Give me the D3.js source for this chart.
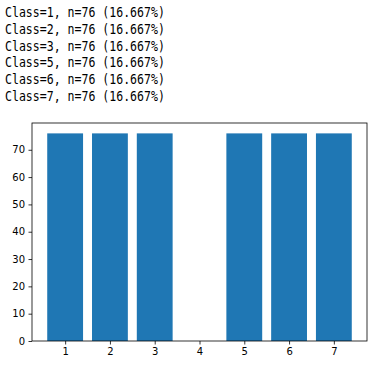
<!DOCTYPE html>
<html>
<head>
<meta charset="utf-8">
<script src="https://cdn.jsdelivr.net/npm/d3@7"></script>
<style>
  body { margin: 0; background: #fff; }
  svg { display: block; }
</style>
</head>
<body>
<div id="main"></div>
<script>
// class labels and counts
const classes = [1, 2, 3, 5, 6, 7];
const counts = [76, 76, 76, 76, 76, 76];
const xTicks = [1, 2, 3, 4, 5, 6, 7];
const yTicks = [0, 10, 20, 30, 40, 50, 60, 70];

const W = 388, H = 368;
const m = {left: 32, right: 21, top: 123, bottom: 27};

const svg = d3.select("#main").append("svg")
  .attr("width", W).attr("height", H);

// summary lines printed above the chart
const total = d3.sum(counts);
const lines = classes.map((c, i) =>
  `Class=${c}, n=${counts[i]} (${(counts[i] / total * 100).toFixed(3)}%)`);

svg.append("g").selectAll("text")
  .data(lines)
  .join("text")
  .attr("x", 5)
  .attr("y", (d, i) => 17.3 + i * 16.7)
  .attr("font-family", "DejaVu Sans Mono, monospace")
  .attr("font-size", 14)
  .attr("textLength", d => d.length * 6.95)
  .attr("lengthAdjust", "spacingAndGlyphs")
  .attr("fill", "#000")
  .text(d => d);

const x = d3.scaleLinear().domain([0.26, 7.74]).range([m.left, W - m.right]);
const y = d3.scaleLinear().domain([0, 79.8]).range([H - m.bottom, m.top]);

const bw = 0.8;
svg.append("g").selectAll("rect")
  .data(classes)
  .join("rect")
  .attr("x", (d) => x(d - bw / 2))
  .attr("width", (d) => x(d + bw / 2) - x(d - bw / 2))
  .attr("y", (d, i) => y(counts[i]))
  .attr("height", (d, i) => y(0) - y(counts[i]))
  .attr("fill", "#1f77b4");

const xAxis = svg.append("g")
  .attr("transform", `translate(0,${H - m.bottom})`)
  .call(d3.axisBottom(x).tickValues(xTicks).tickSize(3.5).tickPadding(3.5).tickFormat(d3.format("d")));
const yAxis = svg.append("g")
  .attr("transform", `translate(${m.left},0)`)
  .call(d3.axisLeft(y).tickValues(yTicks).tickSize(3.5).tickPadding(3.5).tickFormat(d3.format("d")));

[xAxis, yAxis].forEach(g => {
  g.select(".domain").remove();
  g.selectAll("text").attr("font-family", "DejaVu Sans, sans-serif").attr("font-size", 10).attr("fill", "#000");
  g.selectAll("line").attr("stroke", "#000").attr("stroke-width", 0.8);
});

// frame
svg.append("rect")
  .attr("x", m.left).attr("y", m.top)
  .attr("width", W - m.left - m.right)
  .attr("height", H - m.top - m.bottom)
  .attr("fill", "none")
  .attr("stroke", "#000")
  .attr("stroke-width", 0.8);
</script>
</body>
</html>
